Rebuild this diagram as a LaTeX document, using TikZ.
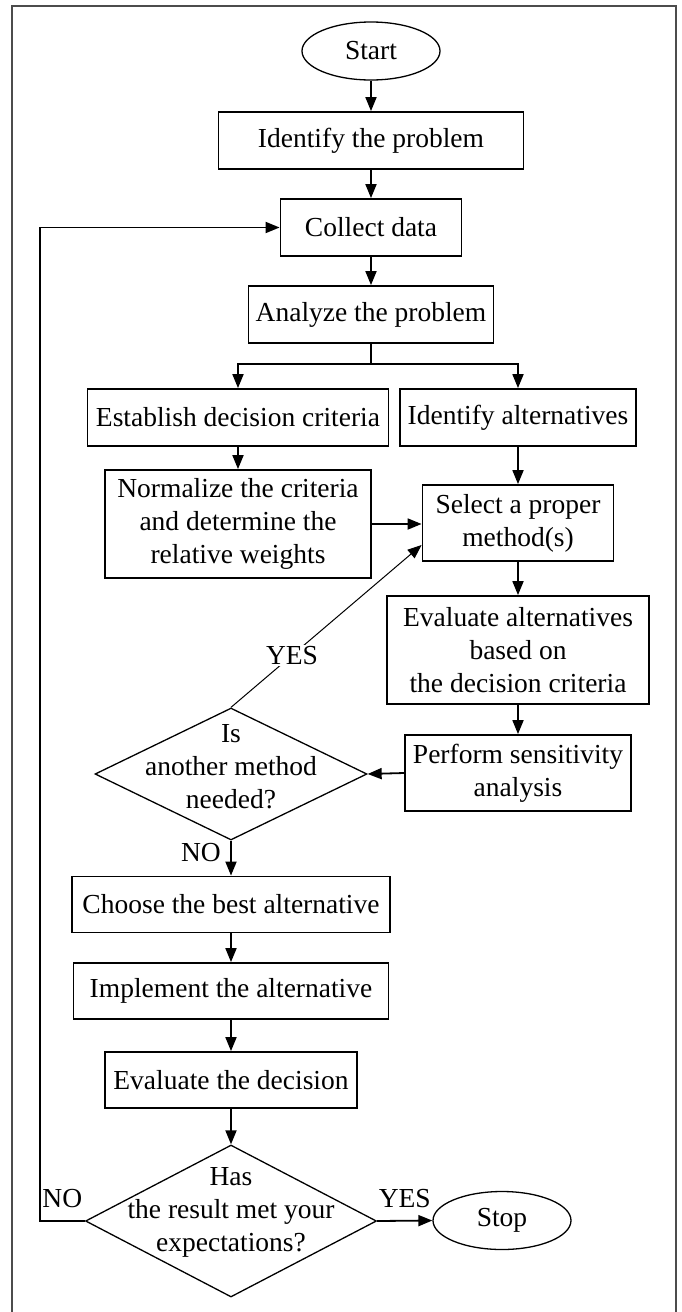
\documentclass[tikz,border=0pt]{standalone}
\usepackage{fontspec}
\setmainfont{Liberation Serif}
\usetikzlibrary{shapes.geometric, arrows.meta}
\tikzstyle{process} = [rectangle, draw=black, line width=1.8pt,
align=center, inner sep=0pt]
\tikzstyle{terminal} = [ellipse, draw=black, line width=1.3pt,
minimum width=138pt, minimum height=58pt, inner sep=0pt]
\tikzstyle{decision} = [diamond, draw=black, line width=1.3pt, inner sep=0pt]
\tikzstyle{arrow} = [line width=1.8pt,-{Triangle[length=14pt,width=11pt]}]
\tikzstyle{thinarrow} = [line width=1pt,-{Triangle[length=14pt,width=11pt]}]

\begin{document}
\begin{tikzpicture}[x=1pt, y=1pt, font=\fontsize{27.5pt}{33pt}\selectfont]
\useasboundingbox (0,0) rectangle (681,-1312);
\draw[line width=2pt, black!70] (12,-1320) |- (676,-6) -- (676,-1320);

% Nodes
\node[terminal] (start) at (371,-51) {Start};
\node[process, minimum width=305pt, minimum height=57pt] (identify) at (371,-140.5) {Identify the problem};
\node[process, minimum width=181pt, minimum height=57pt] (collect) at (371,-227.5) {Collect data};
\node[process, minimum width=245pt, minimum height=57pt] (analyze) at (371,-314.5) {Analyze the problem};
\node[process, minimum width=301pt, minimum height=57pt] (criteria) at (238,-417.5) {Establish decision criteria};
\node[process, minimum width=236pt, minimum height=57pt] (alternatives) at (518,-417.5) {Identify alternatives};
\node[process, minimum width=266pt, minimum height=108pt] (normalize) at (238,-524) {Normalize the criteria\\and determine the\\relative weights};
\node[process, minimum width=191pt, minimum height=76pt] (select) at (518,-523) {Select a proper\\method(s)};
\node[process, minimum width=262pt, minimum height=108pt] (evalalt) at (518,-650) {Evaluate alternatives\\based on\\the decision criteria};
\node[process, minimum width=226pt, minimum height=76pt] (sensitivity) at (518,-773) {Perform sensitivity\\analysis};
\node[decision, minimum width=272pt, minimum height=132pt] (another) at (231,-774) {};
\node[align=center] (anothertext) at (231,-767) {Is\\another method\\needed?};
\node[process, minimum width=318pt, minimum height=56pt] (choose) at (231,-904.5) {Choose the best alternative};
\node[process, minimum width=315pt, minimum height=56pt] (implement) at (231,-991) {Implement the alternative};
\node[process, minimum width=252pt, minimum height=56pt] (evaldec) at (231,-1080) {Evaluate the decision};
\node[decision, minimum width=291pt, minimum height=152pt] (expect) at (231,-1221) {};
\node[align=center] (expecttext) at (231,-1212) {Has\\the result met your\\expectations?};
\node[terminal] (stop) at (502,-1220.5) {Stop};

% Arrows
\draw[arrow] (start) -- (identify);
\draw[arrow] (identify) -- (collect);
\draw[arrow] (collect) -- (analyze);
\draw[arrow] (analyze.south) -- ++(0,-20) -| (criteria.north);
\draw[arrow] (analyze.south) -- ++(0,-20) -| (alternatives.north);
\draw[arrow] (criteria) -- (normalize);
\draw[arrow] (alternatives) -- (select);
\draw[arrow] (normalize.east) -- (normalize.east -| select.west);
\draw[arrow] (select) -- (evalalt);
\draw[arrow] (evalalt) -- (sensitivity);
\draw[arrow] (sensitivity.west) -- (another.east);
\draw[thinarrow] (another.north) -- node[pos=0.32, fill=white, inner sep=1pt] (yesmethod) {YES} ([yshift=-22pt]select.west);
\draw[arrow] (another.south) -- node[pos=0.35, left=6pt] (nomethod) {NO} (choose.north);
\draw[arrow] (choose) -- (implement);
\draw[arrow] (implement) -- (evaldec);
\draw[arrow] (evaldec) -- (expect.north);
\draw[arrow] (expect.east) -- node[above=9pt] (yesdone) {YES} (stop.west);
\draw[arrow] (expect.west) -- node[above=9pt] (nodone) {NO} ++(-45,0) |- (collect.west);

\end{tikzpicture}
\end{document}
